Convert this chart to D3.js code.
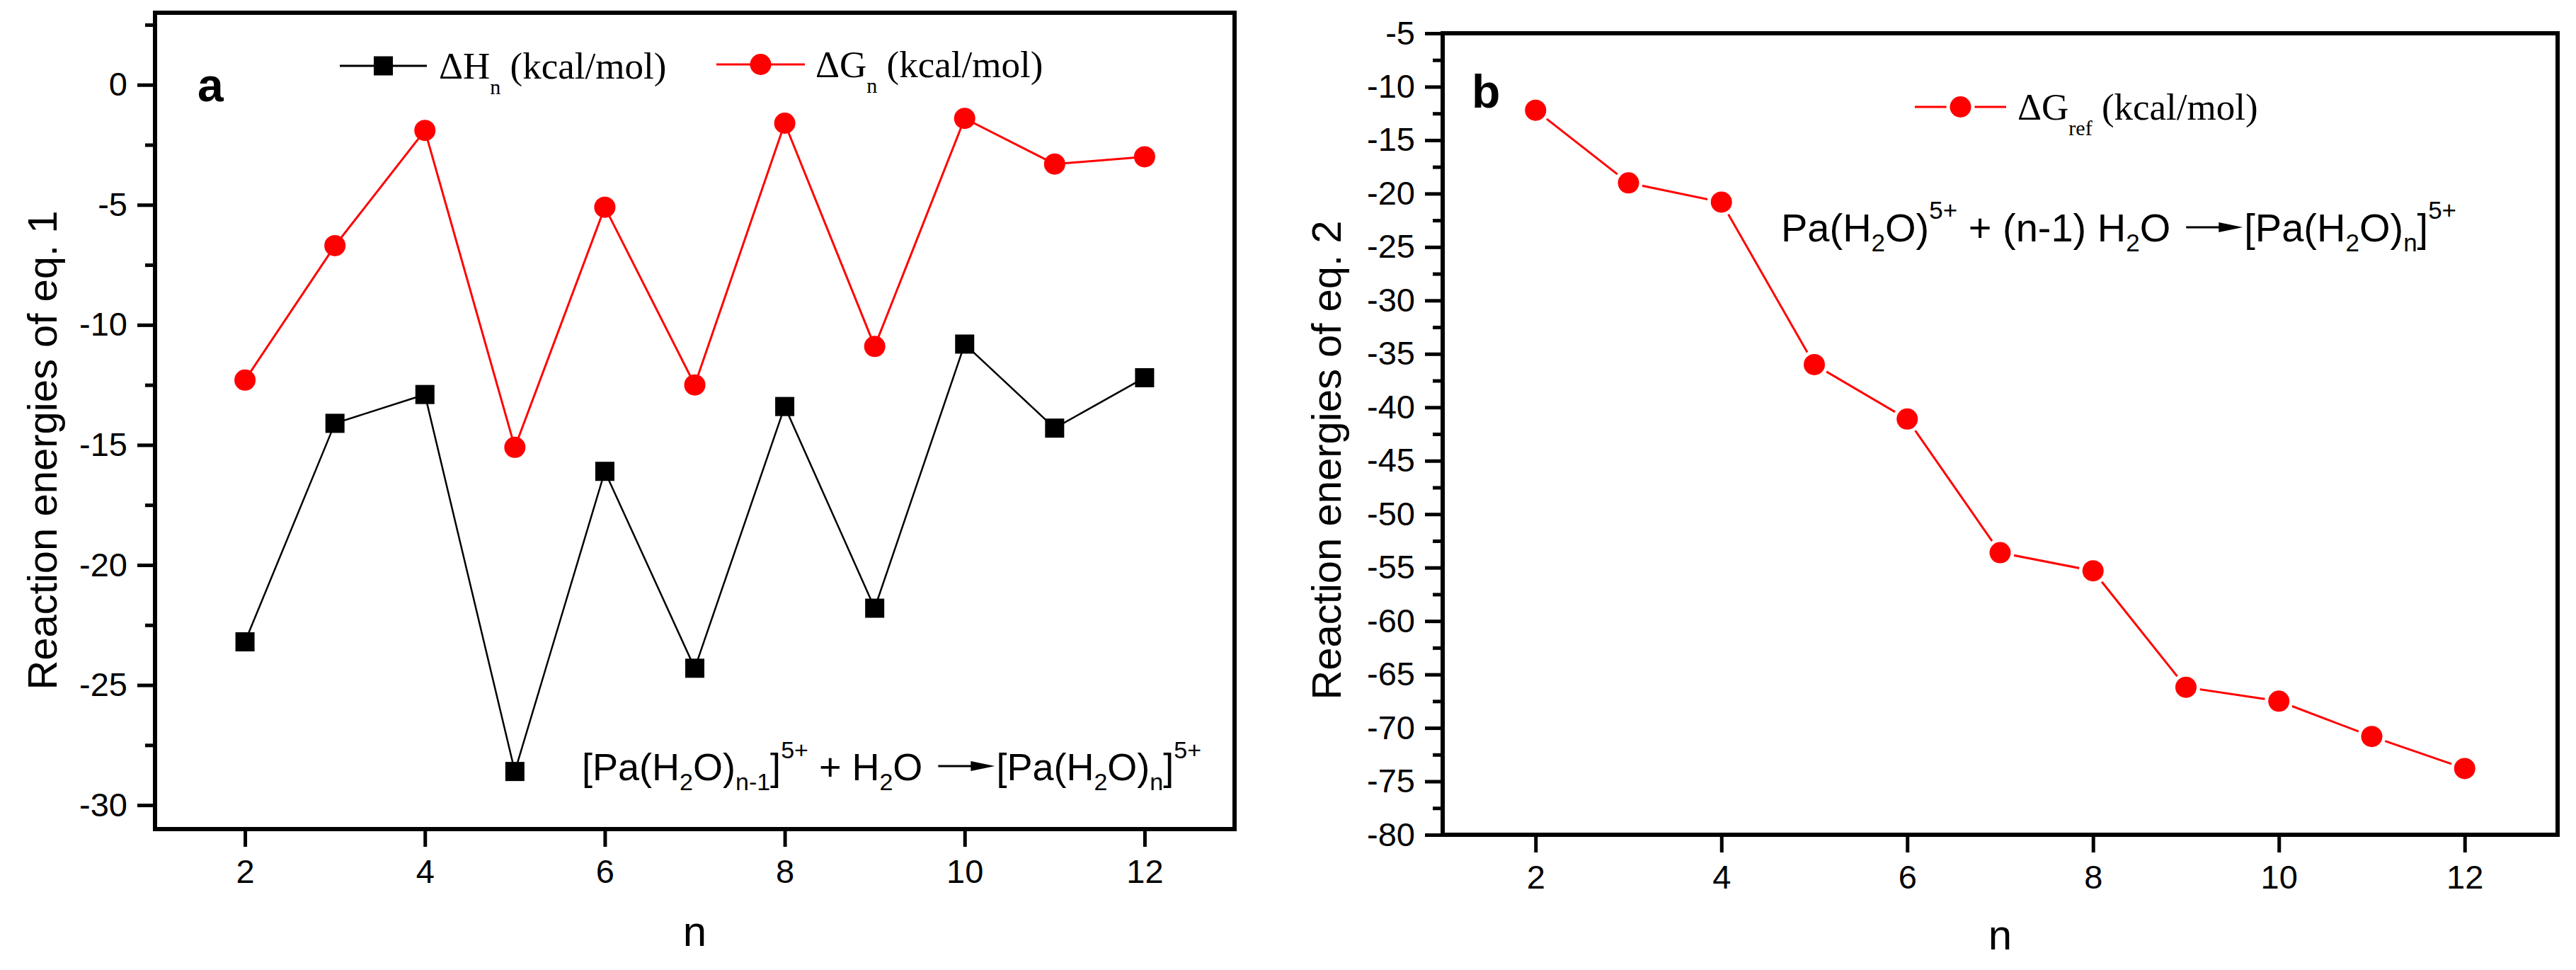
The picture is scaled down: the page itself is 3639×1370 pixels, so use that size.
<!DOCTYPE html>
<html>
<head>
<meta charset="utf-8">
<script src="https://cdn.jsdelivr.net/npm/d3@7"></script>
<style>
  body { margin: 0; background: #fff; }
  svg { display: block; }
</style>
</head>
<body>
<script>
// data
const nValues = [2, 3, 4, 5, 6, 7, 8, 9, 10, 11, 12];
const dHn = [-23.2, -14.1, -12.9, -28.6, -16.1, -24.3, -13.4, -21.8, -10.8, -14.3, -12.2];
const dGn = [-12.3, -6.7, -1.9, -15.1, -5.1, -12.5, -1.6, -10.9, -1.4, -3.3, -3.0];
const dGref = [-12.2, -19.0, -20.8, -36.0, -41.1, -53.6, -55.3, -66.2, -67.5, -70.8, -73.8];

// tick labels
const xTicks = [2, 4, 6, 8, 10, 12];
const yTicksA = [0, -5, -10, -15, -20, -25, -30];
const yTicksB = [-5, -10, -15, -20, -25, -30, -35, -40, -45, -50, -55, -60, -65, -70, -75, -80];

const W = 3639, H = 1370;
const sans = "'Liberation Sans', Arial, sans-serif";
const serif = "'Liberation Serif', 'Times New Roman', serif";
const RED = '#ff0000';

const svg = d3.select('body').append('svg')
  .attr('width', W).attr('height', H)
  .style('background', '#fff');

// plot areas
const boxA = { left: 219, right: 1744, top: 18, bottom: 1171 };
const boxB = { left: 2038, right: 3613, top: 47, bottom: 1179 };

// --- axes + frame for one panel
function drawAxes(box, yDomain, yTicks, yMinor) {
  const x = d3.scaleLinear([1, 13], [box.left, box.right]);
  const y = d3.scaleLinear(yDomain, [box.bottom, box.top]);

  const gx = svg.append('g')
    .attr('transform', `translate(0,${box.bottom})`)
    .call(d3.axisBottom(x).tickValues(xTicks).tickSize(25).tickFormat((d) => String(d)));
  gx.select('.domain').remove();
  gx.selectAll('line').attr('stroke', '#000').attr('stroke-width', 5);
  gx.selectAll('text')
    .attr('y', 76).attr('dy', null)
    .attr('fill', '#000')
    .attr('font-size', 47).attr('font-family', sans);

  // minor ticks first (no labels)
  const gyMinor = svg.append('g')
    .attr('transform', `translate(${box.left},0)`)
    .call(d3.axisLeft(y).tickValues(yMinor).tickSize(14).tickFormat(''));
  gyMinor.select('.domain').remove();
  gyMinor.selectAll('line').attr('stroke', '#000').attr('stroke-width', 5);

  const gy = svg.append('g')
    .attr('transform', `translate(${box.left},0)`)
    .call(d3.axisLeft(y).tickValues(yTicks).tickSize(25).tickPadding(14).tickFormat((d) => String(d)));
  gy.select('.domain').remove();
  gy.selectAll('line').attr('stroke', '#000').attr('stroke-width', 5);
  gy.selectAll('text')
    .attr('fill', '#000')
    .attr('font-size', 47).attr('font-family', sans);

  // frame on top
  svg.append('rect')
    .attr('x', box.left).attr('y', box.top)
    .attr('width', box.right - box.left).attr('height', box.bottom - box.top)
    .attr('fill', 'none').attr('stroke', '#000').attr('stroke-width', 6);

  return { x, y };
}

// text made of normal / sub / sup pieces
function richText(g, x, y, parts, opt) {
  const t = g.append('text')
    .attr('x', x).attr('y', y)
    .attr('font-family', opt.family)
    .attr('font-size', opt.size)
    .attr('fill', '#000');
  let shift = 0;
  parts.forEach(([s, kind]) => {
    let target = 0, size = opt.size;
    if (kind === 'sub') { target = opt.subShift; size = opt.smallSize; }
    if (kind === 'sup') { target = -opt.supShift; size = opt.smallSize; }
    t.append('tspan')
      .attr('dy', target - shift)
      .attr('font-size', size)
      .style('white-space', 'pre')
      .text(s);
    shift = target;
  });
  t.attr('xml:space', 'preserve');
  return t;
}

const eqOptA = { family: sans, size: 54, smallSize: 34, subShift: 14, supShift: 31 };
const eqOptB = { family: sans, size: 56, smallSize: 35, subShift: 14, supShift: 32 };
const legOpt = { family: serif, size: 53, smallSize: 30, subShift: 22, supShift: 0 };

function equation(x, y, leftParts, rightParts, opt) {
  const g = svg.append('g');
  const t1 = richText(g, x, y, leftParts, opt);
  const w = t1.node().getComputedTextLength();
  const ax = x + w + 22;
  const ay = y - 20;
  g.append('line')
    .attr('x1', ax).attr('x2', ax + 50)
    .attr('y1', ay).attr('y2', ay)
    .attr('stroke', '#000').attr('stroke-width', 3);
  g.append('path')
    .attr('d', `M${ax + 46},${ay - 7}L${ax + 80},${ay}L${ax + 46},${ay + 7}Z`)
    .attr('fill', '#000');
  richText(g, ax + 82, y, rightParts, opt);
}

// ---------- panel a ----------
const sa = drawAxes(boxA, [-31, 3], yTicksA,
  d3.range(-30, 3, 2.5).filter((v) => v % 5 !== 0));

const lineA = d3.line()
  .x((d, i) => sa.x(nValues[i]))
  .y((d) => sa.y(d));

svg.append('path').datum(dHn).attr('d', lineA)
  .attr('fill', 'none').attr('stroke', '#000').attr('stroke-width', 2.5);
svg.append('path').datum(dGn).attr('d', lineA)
  .attr('fill', 'none').attr('stroke', RED).attr('stroke-width', 3);

svg.append('g').selectAll('rect').data(dHn).join('rect')
  .attr('x', (d, i) => sa.x(nValues[i]) - 13.5)
  .attr('y', (d) => sa.y(d) - 13.5)
  .attr('width', 27).attr('height', 27)
  .attr('fill', '#000');

svg.append('g').selectAll('circle').data(dGn).join('circle')
  .attr('cx', (d, i) => sa.x(nValues[i]))
  .attr('cy', (d) => sa.y(d))
  .attr('r', 15)
  .attr('fill', RED);

// legend a
svg.append('line').attr('x1', 480).attr('x2', 603).attr('y1', 93).attr('y2', 93)
  .attr('stroke', '#000').attr('stroke-width', 3);
svg.append('rect').attr('x', 541.5 - 13.5).attr('y', 93 - 13.5)
  .attr('width', 27).attr('height', 27).attr('fill', '#000');
richText(svg, 620, 111, [['ΔH'], ['n', 'sub'], [' (kcal/mol)']], legOpt);

svg.append('line').attr('x1', 1012).attr('x2', 1137).attr('y1', 91).attr('y2', 91)
  .attr('stroke', RED).attr('stroke-width', 3);
svg.append('circle').attr('cx', 1074.5).attr('cy', 91).attr('r', 15).attr('fill', RED);
richText(svg, 1152, 109, [['ΔG'], ['n', 'sub'], [' (kcal/mol)']], legOpt);

// panel letter
svg.append('text').attr('x', 279).attr('y', 143)
  .attr('font-family', sans).attr('font-weight', 'bold').attr('font-size', 66)
  .text('a');

equation(822, 1102,
  [['[Pa(H'], ['2', 'sub'], ['O)'], ['n-1', 'sub'], [']'], ['5+', 'sup'], [' + H'], ['2', 'sub'], ['O']],
  [['[Pa(H'], ['2', 'sub'], ['O)'], ['n', 'sub'], [']'], ['5+', 'sup']], eqOptA);

// axis titles a
svg.append('text')
  .attr('transform', 'translate(80,636) rotate(-90)')
  .attr('text-anchor', 'middle')
  .attr('font-family', sans).attr('font-size', 58)
  .text('Reaction energies of eq. 1');
svg.append('text')
  .attr('x', (boxA.left + boxA.right) / 2).attr('y', 1336)
  .attr('text-anchor', 'middle')
  .attr('font-family', sans).attr('font-size', 60)
  .text('n');

// ---------- panel b ----------
const sb = drawAxes(boxB, [-80, -5], yTicksB,
  d3.range(-80, -5, 2.5).filter((v) => v % 5 !== 0));

const lineB = d3.line()
  .x((d, i) => sb.x(nValues[i]))
  .y((d) => sb.y(d));

svg.append('path').datum(dGref).attr('d', lineB)
  .attr('fill', 'none').attr('stroke', RED).attr('stroke-width', 3);

// white halo gives the little gap between line and symbol
const dotsB = svg.append('g').selectAll('g').data(dGref).join('g')
  .attr('transform', (d, i) => `translate(${sb.x(nValues[i])},${sb.y(d)})`);
dotsB.append('circle').attr('r', 20).attr('fill', '#fff');
dotsB.append('circle').attr('r', 15).attr('fill', RED);

// legend b
svg.append('line').attr('x1', 2705).attr('x2', 2834).attr('y1', 151).attr('y2', 151)
  .attr('stroke', RED).attr('stroke-width', 3);
svg.append('circle').attr('cx', 2769.5).attr('cy', 151).attr('r', 20).attr('fill', '#fff');
svg.append('circle').attr('cx', 2769.5).attr('cy', 151).attr('r', 15).attr('fill', RED);
richText(svg, 2850, 169, [['ΔG'], ['ref', 'sub'], [' (kcal/mol)']], legOpt);

svg.append('text').attr('x', 2079).attr('y', 152)
  .attr('font-family', sans).attr('font-weight', 'bold').attr('font-size', 66)
  .text('b');

equation(2516, 341,
  [['Pa(H'], ['2', 'sub'], ['O)'], ['5+', 'sup'], [' + (n-1) H'], ['2', 'sub'], ['O']],
  [['[Pa(H'], ['2', 'sub'], ['O)'], ['n', 'sub'], [']'], ['5+', 'sup']], eqOptB);

svg.append('text')
  .attr('transform', 'translate(1894,650) rotate(-90)')
  .attr('text-anchor', 'middle')
  .attr('font-family', sans).attr('font-size', 58)
  .text('Reaction energies of eq. 2');
svg.append('text')
  .attr('x', (boxB.left + boxB.right) / 2).attr('y', 1341)
  .attr('text-anchor', 'middle')
  .attr('font-family', sans).attr('font-size', 60)
  .text('n');
</script>
</body>
</html>
